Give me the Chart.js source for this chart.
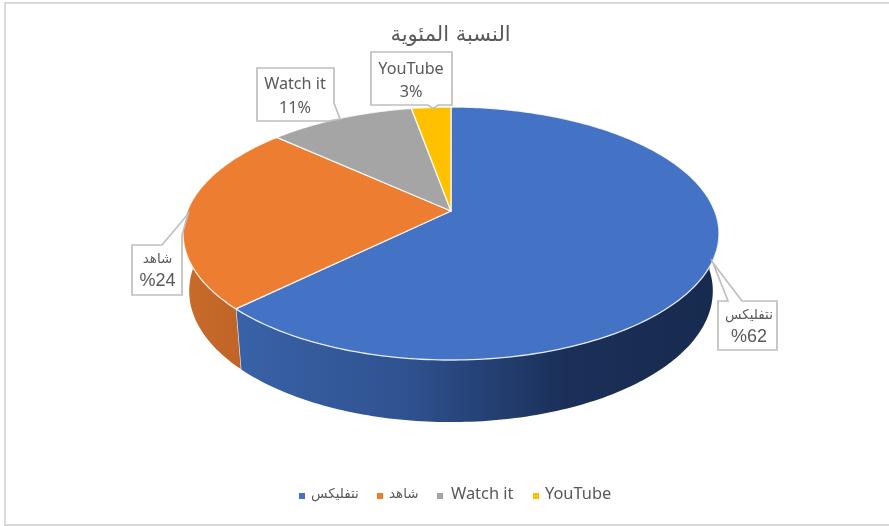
<!DOCTYPE html>
<html><head><meta charset="utf-8">
<style>html,body{margin:0;padding:0;background:#fff}canvas{display:block}</style>
<script src="https://cdn.jsdelivr.net/npm/chart.js@4/dist/chart.umd.js"></script>
</head><body>
<div style="width:889px;height:526px"><canvas id="c"></canvas></div>
<script>
const categories = ['نتفليكس', 'شاهد', 'Watch it', 'YouTube'];
const percentValues = [62, 24, 11, 3];
const tickSuffix = '%';
const sliceColors = ['#4472c4', '#ed7d31', '#a5a5a5', '#ffc000'];
const chartTitle = 'النسبة المئوية';

const LATIN = '"Noto Sans","DejaVu Sans",sans-serif';
const ARABIC = '"DejaVu Sans",sans-serif';
const TEXT = '#595959';
const isArabic = s => /[\u0600-\u06ff]/.test(s);

// perspective of the disc
const P = {cx:451, cy:211, a:263.7, b:122.5, k:-0.178, warp:3.5*Math.PI/180,
           shrink:0.977, topMid:233.5, lowMid:291, lowStretch:1.036};
function rim(angle){
  const t0 = angle + Math.PI/2;
  const t = t0 - P.warp*Math.sin(t0);
  const X = Math.sin(t), Y = -Math.cos(t), d = 1 + P.k*Y;
  return {x:P.cx + P.a*X/d, y:P.cy + P.b*Y/d};
}
function low(p){ return {x:P.cx + (p.x-P.cx)*P.shrink, y:P.lowMid + (p.y-P.topMid)*P.lowStretch}; }
const wallStops = [
  [[0,'#3a62a8'],[0.35,'#2f5290'],[0.68,'#1b3059'],[1,'#172a4e']],
  [[0,'#c96c2a'],[1,'#c06527']],
  [[0,'#8f8f8f'],[1,'#8f8f8f']],
  [[0,'#d9a300'],[1,'#d9a300']]
];
Chart.ArcElement.prototype.draw = function(ctx){
  const {startAngle, endAngle} = this.getProps(['startAngle','endAngle']);
  const o = this.options;
  const n = Math.max(2, Math.ceil((endAngle-startAngle)*60));
  const pts = [];
  for(let i=0;i<=n;i++) pts.push(rim(startAngle+(endAngle-startAngle)*i/n));
  ctx.save();
  // side wall: front part of the rim only
  const front = pts.filter(p=>p.y>=P.cy);
  if(front.length>1){
    const lows = front.map(low), m = front.length-1;
    let x0=1e9,x1=-1e9; for(const p of front){x0=Math.min(x0,p.x);x1=Math.max(x1,p.x);}
    const g = ctx.createLinearGradient(x0,0,x1,0);
    wallStops[this.$context ? this.$context.dataIndex : 0].forEach(s=>g.addColorStop(s[0],s[1]));
    ctx.beginPath();
    front.forEach((p,i)=> i?ctx.lineTo(p.x,p.y):ctx.moveTo(p.x,p.y));
    for(let i=m;i>=0;i--) ctx.lineTo(lows[i].x,lows[i].y);
    ctx.closePath();
    ctx.fillStyle = g; ctx.fill();
    if(pts[n]===front[m]){
      ctx.beginPath();
      ctx.moveTo(front[m].x,front[m].y); ctx.lineTo(lows[m].x,lows[m].y);
      ctx.strokeStyle = 'rgba(255,255,255,0.85)'; ctx.lineWidth = 1.3; ctx.stroke();
    }
  }
  // top face
  ctx.beginPath();
  ctx.moveTo(P.cx,P.cy);
  pts.forEach(p=>ctx.lineTo(p.x,p.y));
  ctx.closePath();
  ctx.fillStyle = o.backgroundColor; ctx.fill();
  ctx.strokeStyle = 'rgba(255,255,255,0.85)'; ctx.lineWidth = 1.3; ctx.lineJoin='round'; ctx.stroke();
  ctx.restore();
};

// callout outlines and text placement
const callouts = [
  {path:[[718,301],[728,301],[713,263],[742,301],[777,301],[777,350],[718,350]], tx:749, y1:315, y2:337},
  {path:[[132,245],[162,245],[188,214],[182,235],[182,295],[132,295]], tx:157.5, y1:259, y2:281},
  {path:[[257,68],[334,68],[334,103],[340,119],[328,121],[257,121]], tx:295, y1:84, y2:108},
  {path:[[371,52],[452,52],[452,105],[438,105],[433,108.5],[428,105],[371,105]], tx:411, y1:69, y2:92}
];
const calloutPlugin = {
  id:'callouts',
  afterDatasetsDraw(chart){
    const ctx = chart.ctx;
    ctx.save();
    callouts.forEach((c,i)=>{
      ctx.beginPath();
      c.path.forEach((p,j)=> j?ctx.lineTo(p[0],p[1]):ctx.moveTo(p[0],p[1]));
      ctx.closePath();
      ctx.fillStyle='#fff'; ctx.strokeStyle='#bfbfbf'; ctx.lineWidth=1.7; ctx.lineJoin='miter';
      ctx.fill(); ctx.stroke();
      ctx.textAlign='center'; ctx.textBaseline='middle'; ctx.fillStyle=TEXT;
      const ar = isArabic(categories[i]), v = percentValues[i];
      ctx.font = ar ? '13.5px '+ARABIC : '16.2px '+LATIN;
      ctx.fillText(categories[i], c.tx, c.y1);
      ctx.font = ar ? '18px "Liberation Sans",sans-serif' : '16.2px '+LATIN;
      ctx.fillText(ar ? tickSuffix+v : v+tickSuffix, c.tx, c.y2);
    });
    ctx.restore();
  }
};
// legend entries: marker left edge, text left edge
const legendSlots = [[299,311],[377,389],[437,451],[533,545]];
const legendPlugin = {
  id:'legendRow',
  afterDraw(chart){
    const ctx = chart.ctx;
    ctx.save();
    ctx.textAlign='left'; ctx.textBaseline='middle';
    legendSlots.forEach((s,i)=>{
      ctx.fillStyle = sliceColors[i];
      ctx.fillRect(s[0],493,6,6);
      ctx.fillStyle = TEXT;
      ctx.font = isArabic(categories[i]) ? '13.5px '+ARABIC : '16.4px '+LATIN;
      ctx.fillText(categories[i], s[1], 494.5);
    });
    ctx.restore();
  }
};
const framePlugin = {
  id:'frame',
  beforeDraw(chart){
    const ctx = chart.ctx;
    ctx.save();
    ctx.fillStyle='#d9d9d9';
    ctx.fillRect(4,2,2,523);
    ctx.fillRect(4,2,885,2);
    ctx.fillRect(4,524,885,2);
    ctx.restore();
  }
};

new Chart(document.getElementById('c'),{
  type:'pie',
  data:{labels:categories,datasets:[{data:percentValues,backgroundColor:sliceColors,borderWidth:0}]},
  plugins:[framePlugin,calloutPlugin,legendPlugin],
  options:{
    responsive:true,maintainAspectRatio:false,animation:false,
    layout:{padding:{left:12,bottom:18,top:15}},
    plugins:{
      tooltip:{enabled:false},
      title:{display:true,text:chartTitle,color:TEXT,font:{family:ARABIC,size:21,weight:'normal'},padding:{top:8,bottom:8}},
      legend:{display:false}
    }
  }
});
</script>
</body></html>
